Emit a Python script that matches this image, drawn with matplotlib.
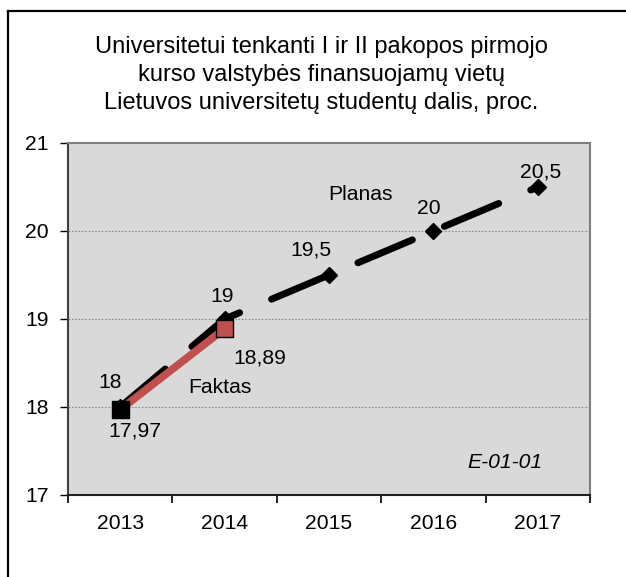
import matplotlib
matplotlib.use("Agg")
import matplotlib.pyplot as plt
from matplotlib.lines import Line2D

plt.rcParams['font.family'] = ['Liberation Sans', 'DejaVu Sans']

years = ['2013', '2014', '2015', '2016', '2017']
plan = [18, 19, 19.5, 20, 20.5]
plan_labels = ['18', '19', '19,5', '20', '20,5']
fact_years = ['2013', '2014']
fact = [17.97, 18.89]
fact_labels = ['17,97', '18,89']
title_lines = ['Universitetui tenkanti I ir II pakopos pirmojo',
               'kurso valstybės finansuojamų vietų',
               'Lietuvos universitetų studentų dalis, proc.']

FS = 15.2
W, H = 626, 577
fig = plt.figure(figsize=(W / 100, H / 100), dpi=100)
ax = fig.add_axes([68 / W, 1 - 495 / H, (590 - 68) / W, (495 - 143) / H])
ax.set_facecolor('#D9D9D9')

x = list(range(len(years)))
xf = [years.index(y) for y in fact_years]

# plan line
ax.plot(x, plan, color='black', lw=5, dashes=(8.5, 5), dash_capstyle='round',
        marker='D', markersize=8, markerfacecolor='black', markeredgecolor='black',
        zorder=3)
# fact line
ax.plot(xf, fact, color='#C0504D', lw=5.5, solid_capstyle='butt', zorder=4)
ax.scatter(xf, fact, marker='s', s=150, c=['black', '#C0504D'],
           edgecolors='black', linewidths=1, zorder=5)

plan_off = [(-10, 24), (-2, 22), (-18, 25), (-5, 23), (3, 15)]
for xi, yi, lab, off in zip(x, plan, plan_labels, plan_off):
    ax.annotate(lab, (xi, yi), xytext=off, textcoords='offset pixels',
                ha='center', va='center', fontsize=FS, zorder=6)
fact_off = [(15, -21), (35, -29)]
for xi, yi, lab, off in zip(xf, fact, fact_labels, fact_off):
    ax.annotate(lab, (xi, yi), xytext=off, textcoords='offset pixels',
                ha='center', va='center', fontsize=FS, zorder=6)

ax.text(2.297, 20.41, 'Planas', ha='center', va='center', fontsize=FS)
ax.text(0.956, 18.216, 'Faktas', ha='center', va='center', fontsize=FS)
ax.text(0.837, 0.091, 'E-01-01', transform=ax.transAxes, ha='center', va='center',
        fontsize=FS, style='italic')

ax.set_xlim(-0.5, len(years) - 0.5)
ax.set_ylim(17, 21)
ax.set_yticks([17, 18, 19, 20, 21])
ax.set_yticklabels(['17', '18', '19', '20', '21'], fontsize=FS)
ax.set_xticks(x)
ax.set_xticklabels(years, fontsize=FS)
ax.set_xticks([i - 0.5 for i in range(len(years) + 1)], minor=True)
ax.tick_params(axis='x', which='major', length=0, pad=14)
ax.tick_params(axis='x', which='minor', length=6, direction='out', width=1.2, color='black')
ax.tick_params(axis='y', length=6, direction='out', width=1, color='black', pad=8)
for yv in [18, 19, 20]:
    ax.axhline(yv, color='#8C8C8C', lw=0.8, ls=(0, (1.5, 1.5)), zorder=1)

for s in ['left', 'top', 'right']:
    ax.spines[s].set_color('#808080')
    ax.spines[s].set_linewidth(1.5)
ax.spines['left'].set_color('#404040')
ax.spines['bottom'].set_color('#202020')
ax.spines['bottom'].set_linewidth(1.5)

ty = [47, 75, 103]
for t, yy in zip(title_lines, ty):
    fig.text(321 / W, 1 - yy / H, t, ha='center', va='center', fontsize=17)

# outer frame (left and top edges visible)
fig.add_artist(Line2D([7.5 / W, 7.5 / W], [0, 1 - 10.5 / H], color='black', lw=1.6,
                      transform=fig.transFigure))
fig.add_artist(Line2D([7.5 / W, 1], [1 - 10.5 / H, 1 - 10.5 / H], color='black', lw=1.6,
                      transform=fig.transFigure))

fig.savefig('out.png', dpi=100)
